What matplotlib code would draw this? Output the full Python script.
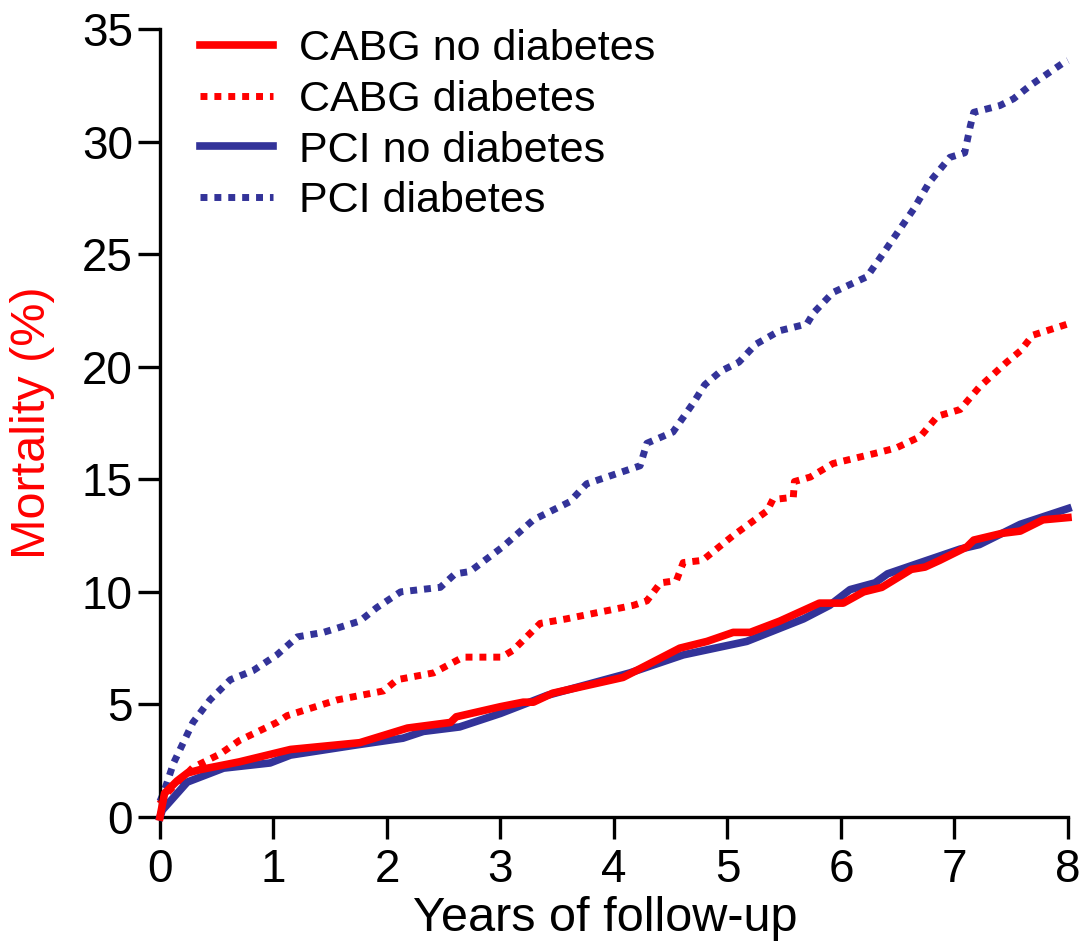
import matplotlib
matplotlib.use("Agg")
import matplotlib.pyplot as plt

plt.rcParams["font.family"] = ["Liberation Sans", "DejaVu Sans"]

# Kaplan-Meier style mortality curves
CABG_ND_X = [0, 0.04, 0.15, 0.24, 0.35, 0.7, 1.15, 1.76, 2.18, 2.56, 2.61, 3.0, 3.2, 3.29, 3.46,
             4.08, 4.58, 4.82, 5.05, 5.2, 5.46, 5.81, 6.02, 6.2, 6.36, 6.62, 6.74, 6.87, 7.11,
             7.17, 7.42, 7.58, 7.78, 8.0]
CABG_ND_Y = [0, 1.05, 1.6, 1.95, 2.1, 2.45, 3.0, 3.3, 3.95, 4.2, 4.45, 4.9, 5.1, 5.1, 5.5,
             6.2, 7.5, 7.8, 8.2, 8.2, 8.7, 9.5, 9.5, 10.0, 10.2, 11.0, 11.1, 11.4, 12.0,
             12.3, 12.6, 12.7, 13.2, 13.3]

CABG_D_X = [0, 0.03, 0.29, 0.53, 0.70, 1.03, 1.12, 1.56, 1.97, 2.09, 2.41, 2.67, 3.01, 3.11,
            3.35, 3.58, 4.17, 4.29, 4.41, 4.55, 4.61, 4.78, 5.05, 5.35, 5.40, 5.58, 5.59, 5.73,
            5.93, 6.34, 6.49, 6.70, 6.85, 7.05, 7.22, 7.46, 7.58, 7.69, 8.0]
CABG_D_Y = [0.6, 0.9, 2.2, 2.8, 3.4, 4.2, 4.5, 5.2, 5.6, 6.1, 6.4, 7.1, 7.1, 7.4,
            8.6, 8.8, 9.4, 9.6, 10.4, 10.5, 11.3, 11.4, 12.5, 13.6, 14.1, 14.2, 14.9, 15.1,
            15.7, 16.2, 16.4, 16.9, 17.8, 18.1, 19.1, 20.2, 20.7, 21.4, 21.9]

PCI_ND_X = [0, 0.02, 0.24, 0.56, 0.97, 1.15, 1.73, 2.14, 2.32, 2.64, 3.0, 3.41, 4.14, 4.61,
            5.17, 5.67, 5.9, 6.08, 6.30, 6.41, 6.70, 7.05, 7.22, 7.58, 8.0]
PCI_ND_Y = [0, 0.3, 1.55, 2.17, 2.4, 2.75, 3.2, 3.5, 3.8, 4.0, 4.6, 5.4, 6.4, 7.2,
            7.8, 8.8, 9.4, 10.1, 10.4, 10.8, 11.3, 11.9, 12.1, 13.0, 13.7]

PCI_D_X = [0, 0.03, 0.12, 0.29, 0.44, 0.62, 0.82, 1.03, 1.21, 1.44, 1.76, 1.91, 2.12, 2.47,
           2.6, 2.73, 3.02, 3.29, 3.61, 3.76, 4.23, 4.29, 4.52, 4.70, 4.8, 4.94, 5.1, 5.25,
           5.46, 5.70, 5.76, 5.93, 6.23, 6.34, 6.64, 6.78, 6.96, 7.09, 7.14, 7.17, 7.40,
           7.52, 7.67, 7.96, 8.0]
PCI_D_Y = [0.7, 1.05, 2.4, 4.2, 5.2, 6.1, 6.5, 7.2, 8.0, 8.2, 8.7, 9.3, 10.0, 10.2,
           10.8, 10.9, 12.0, 13.2, 14.0, 14.8, 15.6, 16.6, 17.1, 18.4, 19.2, 19.8, 20.2, 21.0,
           21.6, 21.9, 22.4, 23.3, 24.0, 24.8, 27.0, 28.2, 29.3, 29.5, 30.7, 31.3, 31.6,
           31.9, 32.5, 33.5, 33.6]

RED = "#ff0000"
BLUE = "#333399"

fig = plt.figure(figsize=(10.84, 9.42), dpi=100)
ax = fig.add_axes([0.1476, 0.1327, 0.8376, 0.8365])

dot = (0, (1, 1))
ax.plot(CABG_ND_X, CABG_ND_Y, color=RED, lw=5.5, label="CABG no diabetes", clip_on=False, zorder=4)
ax.plot(CABG_D_X, CABG_D_Y, color=RED, lw=5, ls=dot, label="CABG diabetes", clip_on=False)
ax.plot(PCI_ND_X, PCI_ND_Y, color=BLUE, lw=5.5, label="PCI no diabetes", clip_on=False, zorder=3)
ax.plot(PCI_D_X, PCI_D_Y, color=BLUE, lw=5, ls=dot, label="PCI diabetes", clip_on=False)

ax.set_xlim(0, 8)
ax.set_ylim(0, 35)
ax.set_xticks(range(0, 9))
ax.set_yticks(range(0, 36, 5))

for s in ["top", "right"]:
    ax.spines[s].set_visible(False)
for s in ["left", "bottom"]:
    ax.spines[s].set_linewidth(2.4)
ax.tick_params(direction="out", length=16, width=2.4, labelsize=33)
ax.tick_params(axis="x", pad=6)
ax.tick_params(axis="y", pad=3.6)

ax.set_xlabel("Years of follow-up", fontsize=35, labelpad=3.5)
ax.xaxis.label.set_x(0.49)
ax.set_ylabel("Mortality (%)", fontsize=35, color=RED, labelpad=19)

ax.legend(loc="upper left", bbox_to_anchor=(0.044, 1.0), frameon=False, fontsize=31,
          handlelength=1.7, handletextpad=0.6, labelspacing=0.25,
          borderpad=0, borderaxespad=0)

fig.savefig("out.png", dpi=100)
